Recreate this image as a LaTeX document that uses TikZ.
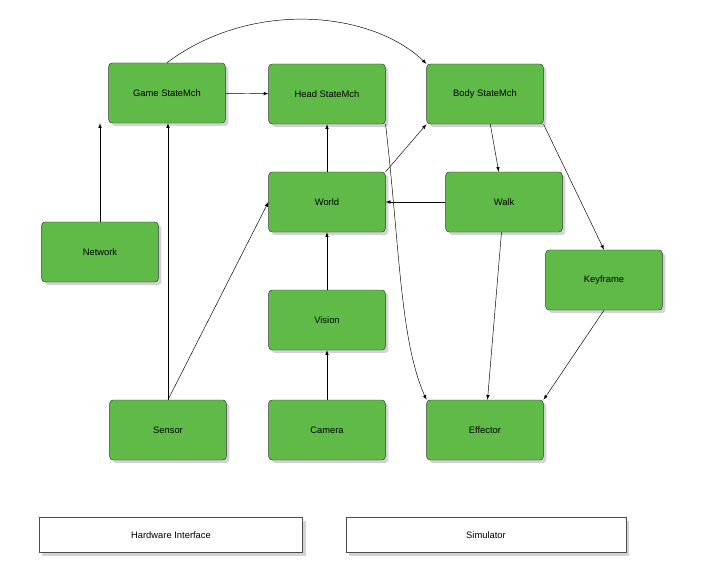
\documentclass[tikz,border=0pt]{standalone}
\usepackage{fontspec}
\setmainfont{Liberation Sans}
\usetikzlibrary{shadows}
\definecolor{boxgreen}{RGB}{96,186,72}
\tikzset{
  module/.style={draw=black!80,fill=boxgreen,rounded corners=3pt,minimum width=3.5cm,minimum height=1.8cm,font=\footnotesize,drop shadow={opacity=.35}},
  layer/.style={draw=black!70,fill=white,minimum height=1.05cm,font=\footnotesize,drop shadow={opacity=.35}},
  flow/.style={->,>=latex}
}
\begin{document}
\begin{tikzpicture}[x=0.03cm,y=-0.03cm]
    \useasboundingbox (0,0) rectangle (702,565);
    % modules
    \node[module] (game) at (167,93) {Game StateMch};
    \node[module] (head) at (327,94) {Head StateMch};
    \node[module] (body) at (485,94) {Body StateMch};
    \node[module] (world) at (327,202) {World};
    \node[module] (walk) at (504,202) {Walk};
    \node[module] (network) at (100,252) {Network};
    \node[module] (keyframe) at (604,280) {Keyframe};
    \node[module] (vision) at (327,320) {Vision};
    \node[module] (sensor) at (168,430) {Sensor};
    \node[module] (camera) at (327,430) {Camera};
    \node[module] (effector) at (485,430) {Effector};
    % layers
    \node[layer,minimum width=7.9cm] (hw) at (171,535) {Hardware Interface};
    \node[layer,minimum width=8.4cm] (sim) at (486,535) {Simulator};
    % connectors
    \draw[flow] (game) -- (head);
    \draw[flow] (game.north) .. controls (250,0) and (370,10) .. (body.north west);
    \draw[flow] (network) -- (network|-game.south);
    \draw[flow] (sensor) -- (sensor|-game.south);
    \draw[flow] (sensor.north) -- (world.west);
    \draw[flow] (world) -- (head);
    \draw[flow] (world.north east) -- (body.south west);
    \draw[flow] (walk) -- (world);
    \draw[flow] (body) -- (walk);
    \draw[flow] (body.south east) -- (keyframe.north);
    \draw[flow] (head.south east) .. controls (400,250) and (400,340) .. (effector.north west);
    \draw[flow] (walk) -- (effector);
    \draw[flow] (keyframe.south) -- (effector.north east);
    \draw[flow] (camera) -- (vision);
    \draw[flow] (vision) -- (world);
\end{tikzpicture}
\end{document}
